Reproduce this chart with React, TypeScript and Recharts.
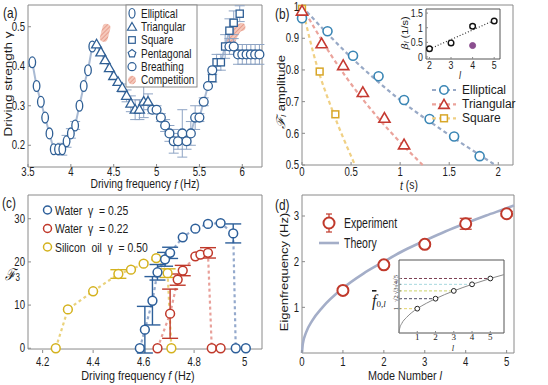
import React from "react";
import {
  ComposedChart,
  Line,
  Scatter,
  XAxis,
  YAxis,
  ErrorBar,
  ReferenceArea,
  ReferenceLine,
} from "recharts";

const SANS = '"Liberation Sans", Arial, Helvetica, sans-serif';
const SERIF = '"Liberation Serif", "Times New Roman", serif';
const FRAME = "#8a8a8a";
const INK = "#1c1c1c";

// ---------- (a) driving frequency (Hz) vs driving strength gamma
const ellipF = [3.55, 3.6, 3.65, 3.7, 3.75, 3.8, 3.85, 3.9, 3.95, 4.0, 4.05, 4.1, 4.15, 4.2, 4.25];
const ellipG = [0.41, 0.35, 0.31, 0.27, 0.23, 0.19, 0.19, 0.19, 0.21, 0.23, 0.25, 0.3, 0.35, 0.39, 0.45];
const ellipE = [0, 0, 0, 0, 0, 0, 0, 0.015, 0.015, 0.012, 0.01, 0, 0, 0, 0];

const triF = [4.3, 4.35, 4.4, 4.45, 4.5, 4.55, 4.6, 4.65, 4.7, 4.75, 4.8, 4.85, 4.9];
const triG = [0.455, 0.435, 0.415, 0.395, 0.375, 0.36, 0.345, 0.325, 0.305, 0.29, 0.29, 0.31, 0.31];
const triE = [0, 0, 0, 0, 0, 0, 0.01, 0.015, 0.02, 0.025, 0.025, 0.04, 0.02];

const breathF = [4.95, 5.0, 5.05, 5.1, 5.15, 5.2, 5.25, 5.3, 5.35, 5.4, 5.45, 5.5, 5.55, 5.6, 5.65, 5.85, 5.9, 5.95, 6.0, 6.05, 6.1, 6.15, 6.2];
const breathG = [0.29, 0.29, 0.27, 0.25, 0.23, 0.21, 0.21, 0.23, 0.21, 0.23, 0.27, 0.27, 0.31, 0.35, 0.39, 0.45, 0.45, 0.43, 0.43, 0.43, 0.43, 0.43, 0.43];
const breathE = [0.01, 0.01, 0.01, 0.015, 0.02, 0.03, 0.02, 0.06, 0.02, 0.03, 0.03, 0.01, 0.01, 0, 0, 0.02, 0.02, 0.025, 0.025, 0.025, 0.025, 0.025, 0.025];

const sqF = [5.65, 5.7, 5.75, 5.8, 5.85, 5.9, 5.97];
const sqG = [0.37, 0.41, 0.41, 0.45, 0.49, 0.51, 0.533];
const sqE = [0.01, 0.02, 0.02, 0.03, 0.03, 0.03, 0.02];

const compLeftF = [4.385, 4.4, 4.415];
const compLeftG = [0.472, 0.485, 0.497];
const compRightF = [5.87, 5.9, 5.93, 5.96, 5.99];
const compRightG = [0.462, 0.478, 0.49, 0.497, 0.499];

// ---------- (b) amplitude decay vs time (s)
const tEll = [0, 0.26, 0.52, 0.78, 1.04, 1.3, 1.55, 1.81];
const ampEll = [0.963, 0.922, 0.845, 0.78, 0.705, 0.645, 0.59, 0.528];
const tTri = [0, 0.2, 0.42, 0.62, 0.84, 1.04];
const ampTri = [0.985, 0.882, 0.813, 0.728, 0.647, 0.563];
const tSq = [0, 0.18, 0.34];
const ampSq = [0.993, 0.795, 0.66];
// dashed fits as they appear in the figure
const fitEllT = [0, 0.5, 1, 1.5, 1.97];
const fitEllA = [1.0, 0.84, 0.705, 0.595, 0.5];
const fitTriT = [0, 0.3, 0.6, 0.9, 1.23];
const fitTriA = [1.0, 0.845, 0.715, 0.605, 0.5];
const fitSqT = [0, 0.15, 0.3, 0.54];
const fitSqA = [1.0, 0.815, 0.68, 0.5];
// inset: decay rate beta_l (1/s) vs l
const betaL = [2, 3, 4, 5];
const betaV = [0.28, 0.48, 1.05, 1.23];
const betaE = [0.03, 0.04, 0.06, 0.04];
const betaOddL = [4];
const betaOddV = [0.39];
const betaFitL = [2, 5];
const betaFitV = [0.27, 1.25];

// ---------- (c) F3 vs driving frequency
const blueF = [4.585, 4.605, 4.635, 4.655, 4.685, 4.705, 4.755, 4.805, 4.855, 4.905, 4.955, 4.965, 5.005];
const blueV = [0, 4.3, 11.0, 17.6, 20.6, 22.1, 25.7, 27.7, 28.8, 29.0, 26.6, 0, 0];
const blueE = [0, 5.4, 5.6, 1.8, 1.6, 1.3, 0, 0, 0, 0, 2.2, 0, 0];
const redF = [4.655, 4.705, 4.735, 4.755, 4.805, 4.825, 4.855, 4.87, 4.905];
const redV = [0, 8.0, 15.9, 18.0, 21.3, 21.7, 22.1, 0, 0];
const redE = [0, 5.7, 1.3, 1.2, 0, 0, 1.2, 0, 0];
const oilF = [4.252, 4.3, 4.4, 4.5, 4.55, 4.6, 4.65, 4.695, 4.71];
const oilV = [0, 9.0, 13.2, 17.2, 18.2, 19.6, 20.9, 17.4, 0];
const oilE = [0, 0, 0, 1.0, 0, 0, 0, 1.0, 0];

// ---------- (d) eigenfrequency vs mode number
const modeL = [1, 2, 3, 4, 5];
const expF = [1.37, 1.93, 2.38, 2.83, 3.05];
const expE = [0.04, 0.04, 0.04, 0.12, 0.05];
const theoryL = [0, 0.02, 0.1, 0.25, 0.5, 1, 1.5, 2, 2.5, 3, 3.5, 4, 4.5, 5, 5.18];
const theoryF = [0, 0.2, 0.45, 0.71, 1.0, 1.42, 1.74, 2.0, 2.25, 2.46, 2.66, 2.84, 3.01, 3.17, 3.23];
// inset: normalised frequency
const insL = [1, 2, 3, 4, 5];
const insF = [1.0, 1.41, 1.73, 2.0, 2.24];
const insLabels = ["1", "\u221A2", "\u221A3", "\u221A4", "\u221A5"];
const insColors = ["#e4d36a", "#4d4a63", "#cdd36a", "#a6d8de", "#7b3f52"];
const insCurveL = [0, 0.03, 0.15, 0.4, 0.7, 1, 2, 3, 4, 5, 5.75];
const insCurveF = [0, 0.17, 0.39, 0.63, 0.84, 1.0, 1.41, 1.73, 2.0, 2.24, 2.4];

const pts = (xs: number[], ys: number[], es?: number[]) =>
  xs.map((x, i) => ({ x, y: ys[i], e: es ? es[i] : 0 }));

const ellip = pts(ellipF, ellipG, ellipE);
const tri = pts(triF, triG, triE);
const breath = pts(breathF, breathG, breathE);
const squares = pts(sqF, sqG, sqE);
const traceA = [...ellip, ...tri, ...breath.filter((p) => p.x < 5.7), ...squares].sort((a, b) => a.x - b.x);

// ---------- shapes
const BLUE_A = "#2f5f95";
const ellShape = (p: any) => (
  <ellipse cx={p.cx} cy={p.cy} rx={3.3} ry={5.4} fill="#fff" stroke={BLUE_A} strokeWidth={1.3} />
);
const triPath = (cx: number, cy: number, s: number) =>
  `M${cx},${cy - s * 1.05}L${cx + s},${cy + s * 0.68}L${cx - s},${cy + s * 0.68}Z`;
const triShapeA = (p: any) => <path d={triPath(p.cx, p.cy, 5)} fill="#fff" stroke={BLUE_A} strokeWidth={1.3} />;
const sqShapeA = (p: any) => (
  <rect x={p.cx - 3.6} y={p.cy - 3.6} width={7.2} height={7.2} fill="#fff" stroke={BLUE_A} strokeWidth={1.3} />
);
const circ = (color: string, r: number, sw: number, fill = "#fff") => (p: any) => (
  <circle cx={p.cx} cy={p.cy} r={r} fill={fill} stroke={color} strokeWidth={sw} />
);
const triShapeB = (p: any) => <path d={triPath(p.cx, p.cy, 5.6)} fill="#fff" stroke="#c53a32" strokeWidth={1.6} />;
const sqShapeB = (p: any) => (
  <rect x={p.cx - 3.4} y={p.cy - 3.4} width={6.8} height={6.8} fill="#fff" stroke="#d8a628" strokeWidth={1.5} />
);

// ---------- squeezed tick labels (the figure is narrower than it is tall)
const tickB = (size = 12, sx = 0.8, fam = SANS, fmt = (v: number) => String(v)) => (p: any) => (
  <g transform={`translate(${p.x},${p.y})`}>
    <text transform={`scale(${sx},1)`} textAnchor="middle" dy="0.71em" fontSize={size} fontFamily={fam} fill={INK}>
      {fmt(p.payload.value)}
    </text>
  </g>
);
const tickL = (size = 12, sx = 0.8, fam = SANS, fmt = (v: number) => String(v)) => (p: any) => (
  <g transform={`translate(${p.x},${p.y})`}>
    <text transform={`scale(${sx},1)`} textAnchor="end" dy="0.35em" fontSize={size} fontFamily={fam} fill={INK}>
      {fmt(p.payload.value)}
    </text>
  </g>
);
const tickRot = (p: any) => {
  const i = insF.indexOf(p.payload.value);
  return (
    <g transform={`translate(${p.x},${p.y}) rotate(-90)`}>
      <text textAnchor="middle" fontSize={6.5} fontFamily={SERIF} fill={INK}>
        {insLabels[i] ?? ""}
      </text>
    </g>
  );
};

function Txt({ x, y, size = 13, sx = 0.8, anchor = "start", rot = false, fam = SANS, children, style }: any) {
  const tf = rot
    ? `translate(${x},${y}) rotate(-90) scale(1,${sx})`
    : `translate(${x},${y}) scale(${sx},1)`;
  return (
    <text transform={tf} fontSize={size} fontFamily={fam} textAnchor={anchor} dominantBaseline="central" fill={INK} style={style}>
      {children}
    </text>
  );
}

const pentagon = (cx: number, cy: number, r: number) =>
  Array.from({ length: 5 }, (_, k) => {
    const a = -Math.PI / 2 + (k * 2 * Math.PI) / 5;
    return `${k ? "L" : "M"}${cx + r * Math.cos(a)},${cy + r * Math.sin(a)}`;
  }).join("") + "Z";

const ax = { axisLine: false, tickLine: { stroke: FRAME }, interval: 0 as const };

export default function App() {
  return (
    <div style={{ position: "absolute", left: 0, top: 0, width: 548, height: 385, background: "#fff", fontFamily: SANS }}>
      {/* (a) */}
      <div style={{ position: "absolute", left: 0, top: 0 }}>
        <ComposedChart width={270} height={190} margin={{ top: 5, right: 8, bottom: 0, left: 0 }}>
          <defs>
            <pattern id="hatchA" width="3" height="3" patternUnits="userSpaceOnUse" patternTransform="rotate(45)">
              <rect width="3" height="3" fill="#f5c8bb" />
              <line x1="0" y1="0" x2="0" y2="3" stroke="#de8470" strokeWidth="1.2" />
            </pattern>
          </defs>
          <XAxis type="number" dataKey="x" domain={[3.5, 6.23]} ticks={[3.5, 4, 4.5, 5, 5.5, 6]} height={23} tickSize={-3} tickMargin={3} tick={tickB()} {...ax} />
          <YAxis type="number" dataKey="y" domain={[0.145, 0.555]} ticks={[0.2, 0.3, 0.4, 0.5]} width={28} tickSize={-3} tickMargin={6} tick={tickL()} {...ax} />
          <ReferenceArea x1={3.5} x2={6.23} y1={0.145} y2={0.555} fill="none" stroke={FRAME} />
          <Line data={traceA} dataKey="y" type="linear" stroke="#a9bad3" strokeWidth={2} dot={false} isAnimationActive={false} />
          <Line data={pts(compLeftF, compLeftG)} dataKey="y" type="monotone" stroke="url(#hatchA)" strokeWidth={8} strokeLinecap="round" dot={false} isAnimationActive={false} />
          <Line data={pts(compRightF, compRightG)} dataKey="y" type="monotone" stroke="url(#hatchA)" strokeWidth={8} strokeLinecap="round" dot={false} isAnimationActive={false} />
          <Scatter data={ellip} dataKey="y" shape={ellShape} isAnimationActive={false}>
            <ErrorBar dataKey="e" direction="y" width={5} stroke="#8ea4c4" strokeWidth={1} />
          </Scatter>
          <Scatter data={tri} dataKey="y" shape={triShapeA} isAnimationActive={false}>
            <ErrorBar dataKey="e" direction="y" width={5} stroke="#8ea4c4" strokeWidth={1} />
          </Scatter>
          <Scatter data={squares} dataKey="y" shape={sqShapeA} isAnimationActive={false}>
            <ErrorBar dataKey="e" direction="y" width={5} stroke="#8ea4c4" strokeWidth={1} />
          </Scatter>
          <Scatter data={breath} dataKey="y" shape={circ(BLUE_A, 4.4, 1.3)} isAnimationActive={false}>
            <ErrorBar dataKey="e" direction="y" width={5} stroke="#8ea4c4" strokeWidth={1} />
          </Scatter>
        </ComposedChart>
      </div>

      {/* (b) */}
      <div style={{ position: "absolute", left: 274, top: 0 }}>
        <ComposedChart width={274} height={190} margin={{ top: 5, right: 35, bottom: 0, left: 0 }}>
          <XAxis type="number" dataKey="x" domain={[0, 2.15]} ticks={[0, 0.5, 1, 1.5, 2]} height={25} tickSize={-3} tickMargin={5} tick={tickB()} {...ax} />
          <YAxis type="number" dataKey="y" domain={[0.5, 1.005]} ticks={[0.5, 0.6, 0.7, 0.8, 0.9, 1]} width={28} tickSize={-3} tickMargin={6} tick={tickL()} {...ax} />
          <ReferenceArea x1={0} x2={2.15} y1={0.5} y2={1.005} fill="none" stroke={FRAME} />
          <Line data={pts(fitEllT, fitEllA)} dataKey="y" type="monotone" stroke="#98a9c6" strokeWidth={2.2} strokeDasharray="4 3" dot={false} isAnimationActive={false} />
          <Line data={pts(fitTriT, fitTriA)} dataKey="y" type="monotone" stroke="#eba39b" strokeWidth={2.2} strokeDasharray="4 3" dot={false} isAnimationActive={false} />
          <Line data={pts(fitSqT, fitSqA)} dataKey="y" type="monotone" stroke="#f0d084" strokeWidth={2.2} strokeDasharray="4 3" dot={false} isAnimationActive={false} />
          <Scatter data={pts(tSq, ampSq)} dataKey="y" shape={sqShapeB} isAnimationActive={false} />
          <Scatter data={pts(tEll, ampEll)} dataKey="y" shape={circ("#3a86b5", 4.5, 1.6)} isAnimationActive={false} />
          <Scatter data={pts(tTri, ampTri)} dataKey="y" shape={triShapeB} isAnimationActive={false} />
        </ComposedChart>
      </div>

      {/* (b) inset */}
      <div style={{ position: "absolute", left: 426, top: 9, width: 74, height: 50, background: "#fff" }} />
      <div style={{ position: "absolute", left: 400, top: 0 }}>
        <ComposedChart width={110} height={80} margin={{ top: 9, right: 10, bottom: 0, left: 0 }}>
          <XAxis type="number" dataKey="x" domain={[1.84, 5.27]} ticks={[2, 3, 4, 5]} height={21} tickSize={-2} tickMargin={4} tick={tickB(11)} {...ax} />
          <YAxis type="number" dataKey="y" domain={[-0.07, 1.64]} ticks={[0, 0.5, 1, 1.5]} width={26} tickSize={-2} tickMargin={5} tick={tickL(11)} {...ax} />
          <ReferenceArea x1={1.84} x2={5.27} y1={-0.07} y2={1.64} fill="none" stroke="#555" />
          <Line data={pts(betaFitL, betaFitV)} dataKey="y" type="linear" stroke="#333" strokeWidth={1.2} strokeDasharray="1 2" dot={false} isAnimationActive={false} />
          <Scatter data={pts(betaL, betaV, betaE)} dataKey="y" shape={circ("#111", 2.8, 1.4)} isAnimationActive={false}>
            <ErrorBar dataKey="e" direction="y" width={3} stroke="#555" strokeWidth={1} />
          </Scatter>
          <Scatter data={pts(betaOddL, betaOddV)} dataKey="y" shape={circ("#8b4e8f", 3, 1, "#8b4e8f")} isAnimationActive={false} />
        </ComposedChart>
      </div>

      {/* (c) */}
      <div style={{ position: "absolute", left: 0, top: 190 }}>
        <ComposedChart width={274} height={195} margin={{ top: 5, right: 12, bottom: 0, left: 0 }}>
          <XAxis type="number" dataKey="x" domain={[4.142, 5.069]} ticks={[4.2, 4.4, 4.6, 4.8, 5]} height={32} tickSize={-3} tickMargin={7} tick={tickB()} {...ax} />
          <YAxis type="number" dataKey="y" domain={[-0.18, 35.5]} ticks={[0, 10, 20, 30]} width={28} tickSize={-3} tickMargin={6} tick={tickL()} {...ax} />
          <ReferenceArea x1={4.142} x2={5.069} y1={-0.18} y2={35.5} fill="none" stroke={FRAME} />
          <Line data={pts(oilF, oilV)} dataKey="y" type="linear" stroke="#ead27c" strokeWidth={2.2} strokeDasharray="3 3" dot={false} isAnimationActive={false} />
          <Line data={pts(redF, redV)} dataKey="y" type="linear" stroke="#e8a09a" strokeWidth={2.2} strokeDasharray="3 3" dot={false} isAnimationActive={false} />
          <Line data={pts(blueF, blueV)} dataKey="y" type="linear" stroke="#94a9cc" strokeWidth={2.2} strokeDasharray="3 3" dot={false} isAnimationActive={false} />
          <Scatter data={pts(oilF, oilV, oilE)} dataKey="y" shape={circ("#d4b21e", 4.4, 1.5)} isAnimationActive={false}>
            <ErrorBar dataKey="e" direction="y" width={8} stroke="#d4b21e" strokeWidth={1.4} />
          </Scatter>
          <Scatter data={pts(redF, redV, redE)} dataKey="y" shape={circ("#c0392b", 4.4, 1.5)} isAnimationActive={false}>
            <ErrorBar dataKey="e" direction="y" width={8} stroke="#c0392b" strokeWidth={1.4} />
          </Scatter>
          <Scatter data={pts(blueF, blueV, blueE)} dataKey="y" shape={circ("#2d5f9a", 4.4, 1.5)} isAnimationActive={false}>
            <ErrorBar dataKey="e" direction="y" width={8} stroke="#2d5f9a" strokeWidth={1.4} />
          </Scatter>
        </ComposedChart>
      </div>

      {/* (d) */}
      <div style={{ position: "absolute", left: 274, top: 190 }}>
        <ComposedChart width={274} height={195} margin={{ top: 5, right: 34, bottom: 0, left: 0 }}>
          <XAxis type="number" dataKey="x" domain={[0, 5.18]} ticks={[0, 1, 2, 3, 4, 5]} height={32} tickSize={-3} tickMargin={7} tick={tickB()} {...ax} />
          <YAxis type="number" dataKey="y" domain={[0, 3.46]} ticks={[1, 2, 3]} width={28} tickSize={-3} tickMargin={6} tick={tickL()} {...ax} />
          <ReferenceArea x1={0} x2={5.18} y1={0} y2={3.46} fill="none" stroke={FRAME} />
          <Line data={pts(theoryL, theoryF)} dataKey="y" type="monotone" stroke="#a4aec8" strokeWidth={2.6} dot={false} isAnimationActive={false} />
          <Scatter data={pts(modeL, expF, expE)} dataKey="y" shape={circ("#c0392b", 5.5, 2)} isAnimationActive={false}>
            <ErrorBar dataKey="e" direction="y" width={6} stroke="#c0392b" strokeWidth={1.2} />
          </Scatter>
        </ComposedChart>
      </div>

      {/* (d) inset */}
      <div style={{ position: "absolute", left: 399, top: 260, width: 105, height: 73, background: "#fff" }} />
      <div style={{ position: "absolute", left: 380, top: 255 }}>
        <ComposedChart width={130} height={95} margin={{ top: 5, right: 6, bottom: 0, left: 0 }}>
          <XAxis type="number" dataKey="x" domain={[0, 5.75]} ticks={[1, 2, 3, 4, 5]} height={17} tickSize={-2} tickMargin={3} tick={tickB(9, 1, SERIF)} {...ax} />
          <YAxis type="number" dataKey="y" domain={[0, 3.0]} ticks={insF} width={19} tickSize={-2} tickMargin={3} tick={tickRot} {...ax} />
          <ReferenceArea x1={0} x2={5.75} y1={0} y2={3.0} fill="none" stroke="#555" />
          {insL.map((l, i) => (
            <ReferenceLine key={l} segment={[{ x: 0, y: insF[i] }, { x: l, y: insF[i] }]} stroke={insColors[i]} strokeWidth={1} strokeDasharray="3 2" />
          ))}
          <Line data={pts(insCurveL, insCurveF)} dataKey="y" type="monotone" stroke="#8a8a8a" strokeWidth={1} dot={false} isAnimationActive={false} />
          <Scatter data={pts(insL, insF)} dataKey="y" shape={circ("#222", 2.4, 1)} isAnimationActive={false} />
        </ComposedChart>
      </div>

      {/* titles, legends, labels */}
      <svg width={548} height={385} style={{ position: "absolute", left: 0, top: 0, pointerEvents: "none" }}>
        <defs>
          <pattern id="hatchL" width="3" height="3" patternUnits="userSpaceOnUse" patternTransform="rotate(45)">
            <rect width="3" height="3" fill="#f5c8bb" />
            <line x1="0" y1="0" x2="0" y2="3" stroke="#de8470" strokeWidth="1.2" />
          </pattern>
        </defs>

        {/* (a) */}
        <Txt x={3} y={13} size={14} sx={0.85}>(a)</Txt>
        <Txt x={8} y={84} size={13.5} rot anchor="middle">Driving strength γ</Txt>
        <Txt x={145} y={183.5} size={13} anchor="middle">
          Driving frequency <tspan fontStyle="italic">f</tspan> (Hz)
        </Txt>
        <rect x={126} y={5} width={71} height={82} fill="#fff" stroke="#8a8a8a" />
        <ellipse cx={132} cy={13.3} rx={3} ry={4.8} fill="#fff" stroke={BLUE_A} strokeWidth={1.2} />
        <path d={triPath(132, 27.2, 4.5)} fill="#fff" stroke={BLUE_A} strokeWidth={1.2} />
        <rect x={128.7} y={36.7} width={6.6} height={6.6} fill="#fff" stroke={BLUE_A} strokeWidth={1.2} />
        <path d={pentagon(132, 53.6, 4)} fill="#fff" stroke={BLUE_A} strokeWidth={1.2} />
        <circle cx={132} cy={66.7} r={4} fill="#fff" stroke={BLUE_A} strokeWidth={1.2} />
        <ellipse cx={132} cy={80} rx={4} ry={4.3} fill="url(#hatchL)" />
        {["Elliptical", "Triangular", "Square", "Pentagonal", "Breathing", "Competition"].map((s, i) => (
          <Txt key={s} x={141} y={13.3 + i * 13.35} size={12.5}>{s}</Txt>
        ))}

        {/* (b) */}
        <Txt x={275} y={14} size={14} sx={0.85}>(b)</Txt>
        <Txt x={280.5} y={92} size={13} rot anchor="middle">
          <tspan fontFamily='"DejaVu Serif", serif' fontStyle="italic" fontSize={15}>ℱ</tspan>
          <tspan fontStyle="italic" fontSize={9} dy={4}>l</tspan>
          <tspan dy={-4}>{"  amplitude"}</tspan>
        </Txt>
        <Txt x={409} y={184} size={13} anchor="middle">
          <tspan fontStyle="italic">t</tspan> (s)
        </Txt>
        <Txt x={404} y={33} size={11} rot anchor="middle">
          <tspan fontStyle="italic" fontFamily='"DejaVu Serif", serif'>β</tspan>
          <tspan fontStyle="italic" fontSize={8} dy={3}>l</tspan>
          <tspan dy={-3}> (1/s)</tspan>
        </Txt>
        <Txt x={460} y={75} size={11} anchor="middle">
          <tspan fontStyle="italic">l</tspan>
        </Txt>
        {[
          { name: "Elliptical", line: "#98a9c6", y: 90 },
          { name: "Triangular", line: "#eba39b", y: 104.3 },
          { name: "Square", line: "#f0d084", y: 118.3 },
        ].map((r) => (
          <g key={r.name}>
            <line x1={432} x2={456} y1={r.y} y2={r.y} stroke={r.line} strokeWidth={2.2} strokeDasharray="4 3" />
            <Txt x={462} y={r.y} size={12} sx={1}>{r.name}</Txt>
          </g>
        ))}
        <circle cx={444} cy={90} r={4.2} fill="#fff" stroke="#3a86b5" strokeWidth={1.6} />
        <path d={triPath(444, 104.8, 5.2)} fill="#fff" stroke="#c53a32" strokeWidth={1.6} />
        <rect x={440.6} y={114.9} width={6.8} height={6.8} fill="#fff" stroke="#d8a628" strokeWidth={1.5} />

        {/* (c) */}
        <Txt x={2} y={203} size={14} sx={0.85}>(c)</Txt>
        <Txt x={5} y={274} size={14}>
          <tspan fontFamily='"DejaVu Serif", serif' fontStyle="italic" fontSize={16}>ℱ</tspan>
          <tspan fontSize={10} dy={4}>3</tspan>
        </Txt>
        <Txt x={138} y={375.5} size={13.5} anchor="middle">
          Driving frequency <tspan fontStyle="italic">f</tspan> (Hz)
        </Txt>
        {[
          { name: "Water  γ  = 0.25", c: "#2d5f9a", y: 210 },
          { name: "Water  γ  = 0.22", c: "#c0392b", y: 228.5 },
          { name: "Silicon  oil  γ  = 0.50", c: "#d4b21e", y: 247 },
        ].map((r) => (
          <g key={r.name}>
            <circle cx={47.5} cy={r.y} r={4} fill="#fff" stroke={r.c} strokeWidth={1.5} />
            <Txt x={55} y={r.y} size={13} sx={0.8} style={{ whiteSpace: "pre" }}>{r.name}</Txt>
          </g>
        ))}

        {/* (d) */}
        <Txt x={275} y={205} size={14} sx={0.85}>(d)</Txt>
        <Txt x={284} y={272} size={13} rot anchor="middle">Eigenfrequency (Hz)</Txt>
        <Txt x={405} y={375.5} size={13.5} anchor="middle">
          Mode Number <tspan fontStyle="italic">l</tspan>
        </Txt>
        <line x1={329} x2={329} y1={214} y2={232} stroke="#c0392b" strokeWidth={1.2} />
        <line x1={326} x2={332} y1={214} y2={214} stroke="#c0392b" strokeWidth={1.2} />
        <line x1={326} x2={332} y1={232} y2={232} stroke="#c0392b" strokeWidth={1.2} />
        <circle cx={329} cy={223} r={5.5} fill="#fff" stroke="#c0392b" strokeWidth={2} />
        <Txt x={344} y={223} size={14} sx={0.75}>Experiment</Txt>
        <line x1={319} x2={339} y1={243} y2={243} stroke="#a4aec8" strokeWidth={2.6} />
        <Txt x={344} y={243} size={14} sx={0.75}>Theory</Txt>
        <Txt x={372} y={300} size={16} sx={1} fam={SERIF}>
          <tspan fontStyle="italic" textDecoration="overline">f</tspan>
          <tspan fontSize={9} dy={4}>0,</tspan>
          <tspan fontSize={9} fontStyle="italic">l</tspan>
        </Txt>
        <Txt x={453} y={347.5} size={8.5} sx={1} fam={SERIF} anchor="middle">
          <tspan fontStyle="italic">l</tspan>
        </Txt>
      </svg>
    </div>
  );
}
